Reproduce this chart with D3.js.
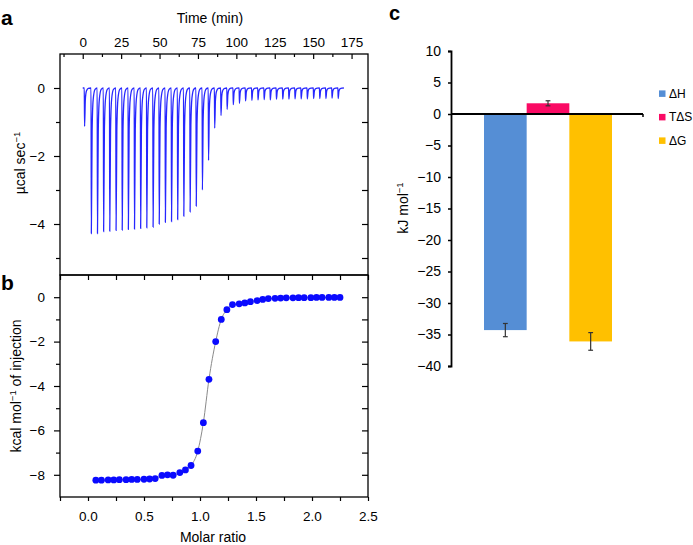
<!DOCTYPE html>
<html>
<head>
<meta charset="utf-8">
<script src="https://cdn.jsdelivr.net/npm/d3@7"></script>
<style>
  body { margin: 0; background: #fff; }
  svg { font-family: "Liberation Sans", Arial, sans-serif; }
</style>
</head>
<body>
<svg id="fig" width="693" height="545"></svg>
<script>
// panel a: raw ITC thermogram (one peak per injection)
const injectionTimes = [1, 5.4, 9.4, 13.4, 17.4, 21.5, 25.5, 29.5, 33.5, 37.5, 41.5, 45.6, 49.6, 53.6,
  57.6, 61.6, 65.6, 69.7, 73.7, 77.7, 81.7, 85.7, 89.8, 93.8, 97.8, 101.8, 105.8, 109.9, 113.9, 117.9,
  121.9, 125.9, 130, 134, 138, 142, 146, 150.1, 154.1, 158.1, 162.1, 166.1];
const peakHeights = [-1.13, -4.28, -4.28, -4.22, -4.21, -4.19, -4.18, -4.16, -4.15, -4.13, -4.11, -4.09,
  -4.0, -3.95, -3.93, -3.87, -3.77, -3.64, -3.47, -3.0, -2.13, -1.18, -0.81, -0.63, -0.49, -0.45, -0.38,
  -0.36, -0.35, -0.34, -0.35, -0.33, -0.33, -0.33, -0.32, -0.32, -0.32, -0.31, -0.31, -0.31, -0.3, -0.31];
const timeTicks = [0, 25, 50, 75, 100, 125, 150, 175];

// panel b: integrated heats
const molarRatios = [0.07, 0.12, 0.18, 0.23, 0.28, 0.34, 0.39, 0.44, 0.50, 0.55, 0.60, 0.66, 0.71, 0.76,
  0.82, 0.87, 0.92, 0.98, 1.03, 1.08, 1.14, 1.19, 1.24, 1.29, 1.35, 1.40, 1.45, 1.51, 1.56, 1.61, 1.67,
  1.72, 1.77, 1.83, 1.88, 1.93, 1.99, 2.04, 2.09, 2.15, 2.20, 2.25];
const heats = [-8.24, -8.24, -8.23, -8.23, -8.22, -8.22, -8.21, -8.21, -8.2, -8.19, -8.17, -8.03, -8.0,
  -8.02, -7.9, -7.78, -7.58, -6.93, -5.65, -3.7, -2.0, -1.0, -0.56, -0.33, -0.3, -0.26, -0.2, -0.15,
  -0.1, -0.06, -0.05, -0.04, -0.03, -0.03, -0.02, -0.02, -0.02, -0.01, -0.01, -0.01, -0.01, -0.01];
const ratioTicks = [0, 0.5, 1.0, 1.5, 2.0, 2.5];

// panel c: thermodynamic parameters
const thermoNames = ['ΔH', 'TΔS', 'ΔG'];
const thermoValues = [-34.3, 1.7, -36.1];
const thermoErrors = [1.05, 0.4, 1.4];
const kjTicks = [10, 5, 0, -5, -10, -15, -20, -25, -30, -35, -40];

const svg = d3.select('#fig');

function supLabel(sel, main, sup, rest) {
  sel.append('tspan').text(main);
  sel.append('tspan').attr('dy', -5).attr('font-size', 9.5).text(sup);
  if (rest) sel.append('tspan').attr('dy', 5).text(rest);
}

function styleAxis(g, size) {
  g.select('.domain').remove();
  g.selectAll('line').attr('stroke', '#000').attr('stroke-width', 1.2);
  g.selectAll('text').attr('font-size', size || 13.5).attr('fill', '#000')
    .attr('font-family', '"Liberation Sans", Arial, sans-serif');
}

// ---------- panel a ----------
const xT = d3.scaleLinear().domain([-14.8, 185.7]).range([60, 368]);
const yA = d3.scaleLinear().domain([-5.5, 1]).range([275, 54]);

svg.append('g').attr('transform', 'translate(0,54)')
  .call(d3.axisTop(xT).tickValues(timeTicks).tickSize(-5).tickPadding(7.5))
  .call(styleAxis);
svg.append('g').attr('transform', 'translate(0,54)')
  .call(d3.axisTop(xT).tickValues([-12.5, 12.5, 37.5, 62.5, 87.5, 112.5, 137.5, 162.5]).tickSize(-3).tickFormat(''))
  .call(styleAxis);
svg.append('g').attr('transform', 'translate(60,0)')
  .call(d3.axisLeft(yA).tickValues([-4, -2, 0]).tickSize(6).tickPadding(9).tickFormat(d3.format('d')))
  .call(styleAxis);
svg.append('g').attr('transform', 'translate(60,0)')
  .call(d3.axisLeft(yA).tickValues([-5, -3, -1]).tickSize(4).tickFormat(''))
  .call(styleAxis);
svg.append('g').attr('transform', 'translate(368,0)')
  .call(d3.axisRight(yA).tickValues([-5, -4, -3, -2, -1, 0]).tickSize(-6).tickFormat(''))
  .call(styleAxis);

// thermogram path built from the injection list
const thermoPts = [[0, 0]];
injectionTimes.forEach((t, i) => {
  const h = peakHeights[i];
  thermoPts.push([t, 0], [t + 0.2, h], [t + 0.7, h * 0.3], [t + 1.4, h * 0.08], [t + 2.6, h * 0.01]);
});
thermoPts.push([170, 0]);

svg.append('path')
  .datum(thermoPts)
  .attr('fill', 'none')
  .attr('stroke', '#2626ff')
  .attr('stroke-width', 1.3)
  .attr('d', d3.line().x(d => xT(d[0])).y(d => yA(d[1])).curve(d3.curveMonotoneX));

svg.append('text').attr('x', 210).attr('y', 22.5).attr('text-anchor', 'middle')
  .attr('font-size', 14).text('Time (min)');
svg.append('text').attr('transform', 'translate(25,163) rotate(-90)').attr('text-anchor', 'middle')
  .attr('font-size', 14).call(supLabel, 'µcal sec', '−1');

// ---------- panel b ----------
const xR = d3.scaleLinear().domain([-0.25, 2.5]).range([60, 368]);
const yB = d3.scaleLinear().domain([-9, 1]).range([497, 275]);
const quarterTicks = [-0.25, 0.25, 0.75, 1.25, 1.75, 2.25];

svg.append('g').attr('transform', 'translate(0,497)')
  .call(d3.axisBottom(xR).tickValues(ratioTicks).tickSize(4).tickPadding(10.5).tickFormat(d3.format('.1f')))
  .call(styleAxis);
svg.append('g').attr('transform', 'translate(0,497)')
  .call(d3.axisBottom(xR).tickValues(quarterTicks).tickSize(4).tickFormat(''))
  .call(styleAxis);
svg.append('g').attr('transform', 'translate(0,275)')
  .call(d3.axisTop(xR).tickValues(ratioTicks.concat(quarterTicks)).tickSize(-5).tickFormat(''))
  .call(styleAxis);
svg.append('g').attr('transform', 'translate(60,0)')
  .call(d3.axisLeft(yB).tickValues([-8, -6, -4, -2, 0]).tickSize(6).tickPadding(9).tickFormat(d3.format('d')))
  .call(styleAxis);
svg.append('g').attr('transform', 'translate(60,0)')
  .call(d3.axisLeft(yB).tickValues([-7, -5, -3, -1]).tickSize(4).tickFormat(''))
  .call(styleAxis);
svg.append('g').attr('transform', 'translate(368,0)')
  .call(d3.axisRight(yB).tickValues([-8, -7, -6, -5, -4, -3, -2, -1, 0]).tickSize(-6).tickFormat(''))
  .call(styleAxis);

const heatPts = molarRatios.map((r, i) => [r, heats[i]]);

svg.append('path')
  .datum(heatPts)
  .attr('fill', 'none')
  .attr('stroke', '#8a8a8a')
  .attr('stroke-width', 1)
  .attr('d', d3.line().x(d => xR(d[0])).y(d => yB(d[1])).curve(d3.curveMonotoneX));

svg.append('g').selectAll('circle')
  .data(heatPts)
  .join('circle')
  .attr('cx', d => xR(d[0]))
  .attr('cy', d => yB(d[1]))
  .attr('r', 3.4)
  .attr('fill', '#0a0aff');

svg.append('text').attr('x', 213).attr('y', 541.5).attr('text-anchor', 'middle')
  .attr('font-size', 14).text('Molar ratio');
svg.append('text').attr('transform', 'translate(21,386) rotate(-90)').attr('text-anchor', 'middle')
  .attr('font-size', 14).call(supLabel, 'kcal mol', '−1', ' of injection');

// frames for a and b
svg.append('rect').attr('x', 60).attr('y', 54).attr('width', 308).attr('height', 221)
  .attr('fill', 'none').attr('stroke', '#000').attr('stroke-width', 1.3);
svg.append('rect').attr('x', 60).attr('y', 275).attr('width', 308).attr('height', 222)
  .attr('fill', 'none').attr('stroke', '#000').attr('stroke-width', 1.3);

// ---------- panel c ----------
const yC = d3.scaleLinear().domain([-40, 10]).range([366, 51]);
const xC = d3.scaleBand().domain(thermoNames).range([484, 612]).padding(0);
const color = d3.scaleOrdinal().domain(thermoNames).range(['#558ed5', '#fa0a64', '#ffc000']);

svg.append('g').selectAll('rect')
  .data(thermoNames)
  .join('rect')
  .attr('x', d => xC(d))
  .attr('width', xC.bandwidth())
  .attr('y', (d, i) => yC(Math.max(0, thermoValues[i])))
  .attr('height', (d, i) => Math.abs(yC(thermoValues[i]) - yC(0)))
  .attr('fill', d => color(d));

// error bars
const err = svg.append('g').attr('stroke', '#333').attr('stroke-width', 1.2);
thermoNames.forEach((d, i) => {
  const cx = xC(d) + xC.bandwidth() / 2;
  const lo = yC(thermoValues[i] - thermoErrors[i]);
  const hi = yC(thermoValues[i] + thermoErrors[i]);
  err.append('line').attr('x1', cx).attr('x2', cx).attr('y1', lo).attr('y2', hi);
  err.append('line').attr('x1', cx - 2.4).attr('x2', cx + 2.4).attr('y1', lo).attr('y2', lo);
  err.append('line').attr('x1', cx - 2.4).attr('x2', cx + 2.4).attr('y1', hi).attr('y2', hi);
});

svg.append('g').attr('transform', 'translate(451,0)')
  .call(d3.axisLeft(yC).tickValues(kjTicks).tickSize(3).tickPadding(7).tickFormat(d3.format('d')))
  .call(g => g.select('.domain').attr('stroke', '#000').attr('stroke-width', 1.8))
  .call(g => g.selectAll('line').attr('stroke', '#000').attr('stroke-width', 1.5))
  .call(g => g.selectAll('text').attr('font-size', 14).attr('fill', '#000')
    .attr('font-family', '"Liberation Sans", Arial, sans-serif'));

// zero line
svg.append('line').attr('x1', 451).attr('x2', 643).attr('y1', yC(0)).attr('y2', yC(0))
  .attr('stroke', '#000').attr('stroke-width', 2);
svg.append('line').attr('x1', 643).attr('x2', 643).attr('y1', yC(0)).attr('y2', yC(0) + 3)
  .attr('stroke', '#000').attr('stroke-width', 1.5);

svg.append('text').attr('transform', 'translate(408,208) rotate(-90)').attr('text-anchor', 'middle')
  .attr('font-size', 14).call(supLabel, 'kJ mol', '−1');

// legend
const legend = svg.append('g').selectAll('g')
  .data(thermoNames)
  .join('g')
  .attr('transform', (d, i) => `translate(659,${93.7 + i * 23.5})`);
legend.append('rect').attr('x', 0).attr('y', -3.3).attr('width', 6.5).attr('height', 6.5)
  .attr('fill', d => color(d));
legend.append('text').attr('x', 10).attr('y', 4.2).attr('font-size', 12).text(d => d);

// panel letters
svg.append('text').attr('x', 1).attr('y', 25).attr('font-size', 21).attr('font-weight', 'bold').text('a');
svg.append('text').attr('x', 1).attr('y', 290).attr('font-size', 21).attr('font-weight', 'bold').text('b');
svg.append('text').attr('x', 389).attr('y', 20).attr('font-size', 20).attr('font-weight', 'bold').text('c');
</script>
</body>
</html>
